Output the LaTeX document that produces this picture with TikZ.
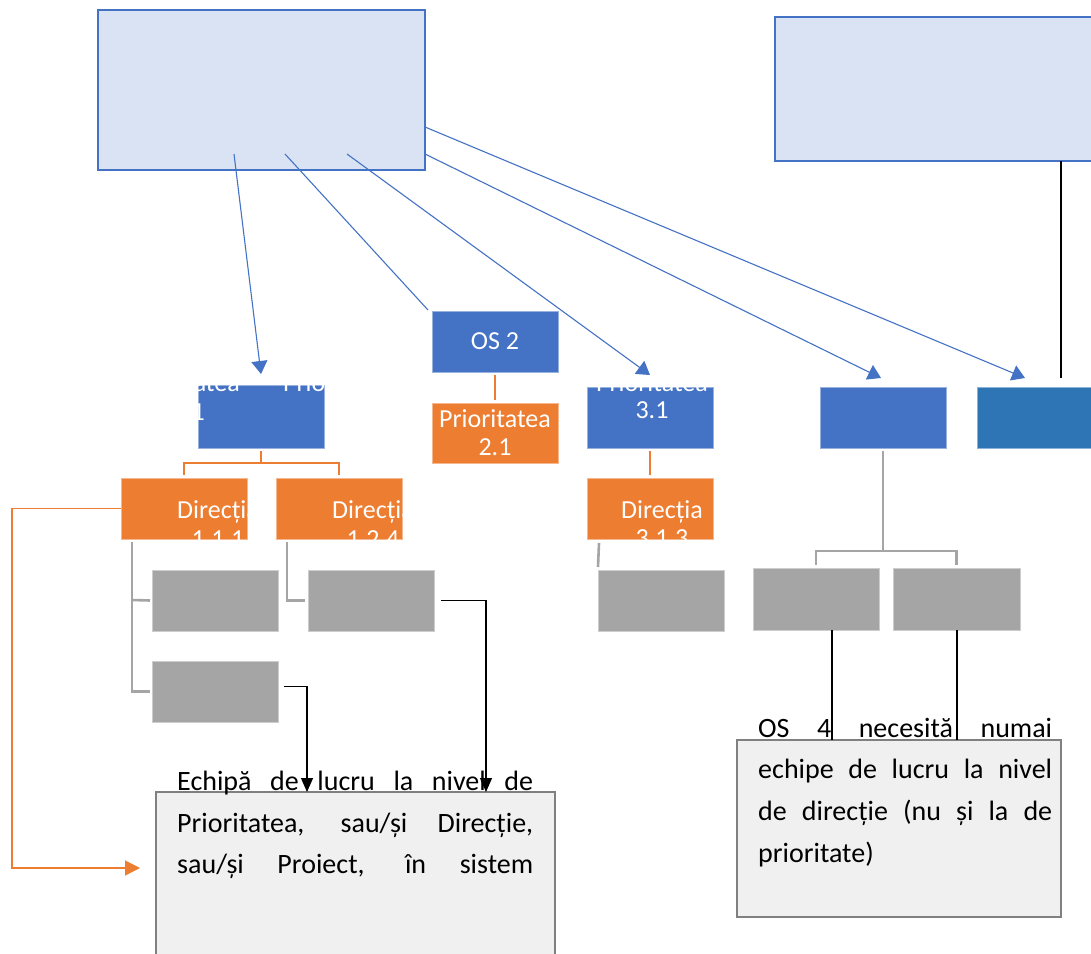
\documentclass[tikz,border=0pt]{standalone}
\usepackage{fontspec}
\setmainfont{Carlito}
\usetikzlibrary{arrows.meta,calc}
\definecolor{cblue}{HTML}{4472C4}
\definecolor{corange}{HTML}{ED7D31}
\definecolor{cgray}{HTML}{A5A5A5}
\definecolor{cbluetwo}{HTML}{2E75B6}
\definecolor{clight}{HTML}{DAE3F3}
\definecolor{cnote}{HTML}{F0F0F0}
\definecolor{cnoteborder}{HTML}{808080}
\begin{document}
\begin{tikzpicture}[x=1pt,y=-1pt,
  basebox/.style={rectangle, inner sep=0pt, outer sep=0pt, anchor=north west, minimum width=126pt, minimum height=61pt},
  bluebox/.style={basebox, fill=cblue, draw=cblue!55!white, line width=0.6pt},
  bluetwobox/.style={basebox, fill=cbluetwo, draw=cbluetwo!55!white, line width=0.6pt},
  orangebox/.style={basebox, fill=corange, draw=corange!55!white, line width=0.6pt},
  graybox/.style={basebox, fill=cgray, draw=cgray!55!white, line width=0.6pt},
  topbox/.style={basebox, fill=clight, draw=cblue, line width=1.8pt},
  notebox/.style={basebox, fill=cnote, draw=cnoteborder, line width=1.4pt},
  wtext/.style={text=white, font=\fontsize{26pt}{28pt}\selectfont, inner sep=0pt, anchor=base},
  btext/.style={text=black, font=\fontsize{28pt}{34pt}\selectfont, inner sep=0pt, anchor=base west},
  bluearrow/.style={draw=cblue, line width=1.1pt, -{Triangle[width=16pt,length=13pt]}},
  blueline/.style={draw=cblue, line width=1.1pt},
  oline/.style={draw=corange, line width=2.6pt},
  othin/.style={draw=corange, line width=1.2pt, -{Triangle[width=15pt,length=15pt]}},
  gline/.style={draw=cgray, line width=2.6pt},
  bline/.style={draw=black, line width=1.2pt},
  barrow/.style={draw=black, line width=1.2pt, -{Triangle[width=12pt,length=14pt]}}
]
\fill[white] (0,0) rectangle (1091,953);
\useasboundingbox (0,0) rectangle (1091,953);

% top boxes
\node[topbox, minimum width=327pt, minimum height=160pt] (os1) at (98,10) {};
\node[topbox, minimum width=330pt, minimum height=144pt] (os5) at (775,17) {};

% level 2
\node[bluebox, minimum height=63pt] (p11) at (198,385) {};
\node[bluebox] (os2) at (432,311) {};
\node[orangebox, minimum height=60pt] (p21) at (432,403) {};
\node[bluebox] (p31) at (587,387) {};
\node[bluebox] (os3) at (820,387) {};
\node[bluetwobox, minimum width=127pt] (os4) at (977,387) {};

% level 3
\node[orangebox] (d111) at (121,478) {};
\node[orangebox] (d124) at (276,478) {};
\node[orangebox] (d313) at (587,478) {};

% gray boxes
\node[graybox] (g1) at (152,570) {};
\node[graybox] (g2) at (152,661) {};
\node[graybox] (g3) at (308,570) {};
\node[graybox] (g4) at (598,570) {};
\node[graybox, minimum height=62pt] (g5) at (753,568) {};
\node[graybox, minimum width=127pt, minimum height=62pt] (g6) at (893,568) {};

% note boxes
\node[notebox, minimum width=399pt, minimum height=175pt] (tb1) at (156,792) {};
\node[notebox, minimum width=324pt, minimum height=177pt] (tb2) at (737,740) {};

% white texts
\node[wtext, anchor=base east] (t11a) at (240,391) {Prioritatea};
\node[wtext, anchor=base west] (t11b) at (283,391) {Prioritatea};
\node[wtext, anchor=base east] (t11c) at (205,420) {1.1};
\node[wtext] (tos2) at (495,349) {OS 2};
\node[wtext] (t21a) at (495,427) {Prioritatea};
\node[wtext] (t21b) at (495,455) {2.1};
\node[wtext] (t31a) at (652,391) {Prioritatea};
\node[wtext] (t31b) at (652,418) {3.1};
\node[wtext] (td111a) at (218,518) {Direcția};
\node[wtext] (td111b) at (218,547) {1.1.1};
\node[wtext] (td124a) at (373,518) {Direcția};
\node[wtext] (td124b) at (373,547) {1.2.4};
\node[wtext] (td313a) at (662,518) {Direcția};
\node[wtext] (td313b) at (662,546) {3.1.3};

% black note texts
\node[btext] (n1a) at (177,790) {\makebox[356pt][s]{Echipă de lucru la nivel de}};
\node[btext] (n1b) at (177,832) {\makebox[356pt][s]{Prioritatea, sau/și Direcție,}};
\node[btext] (n1c) at (177,873) {\makebox[356pt][s]{sau/și Proiect, în sistem}};
\node[btext] (n2a) at (758,737) {\makebox[294pt][s]{OS 4 necesită numai}};
\node[btext] (n2b) at (758,778) {\makebox[294pt][s]{echipe de lucru la nivel}};
\node[btext] (n2c) at (758,820) {\makebox[294pt][s]{de direcție (nu și la de}};
\node[btext] (n2d) at (758,862) {prioritate)};

% orange tree connectors
\draw[oline] ($(p11.south)+(0,3)$) -- ++(0,12) -| ($(d111.north)+(0,-3)$);
\draw[oline] ($(p11.south)+(0,15)$) -| ($(d124.north)+(0,-3)$);
\draw[oline] ($(os2.south)+(0,3)$) -- ($(p21.north)+(0,-3)$);
\draw[oline] ($(p31.south)+(0,3)$) -- ($(d313.north)+(0,-3)$);

% gray connectors
\draw[gline] ($(d111.south west)+(11,3)$) |- ($(g2.west)+(-2,0)$);
\draw[gline] ($(d111.south west)+(11,61)$) -- ($(g1.west)+(-2,0)$);
\draw[gline] ($(d124.south west)+(11,3)$) |- ($(g3.west)+(-3,0)$);
\draw[gline] ($(d313.south west)+(12,4)$) -- ($(g4.north west)+(0,-3)$);
\draw[gline] ($(os3.south)+(0,3)$) -- ++(0,100) -| ($(g5.north)+(0,-3)$);
\draw[gline] ($(os3.south)+(0,103)$) -| ($(g6.north)+(0,-3)$);

% blue connectors from OS box
\draw[bluearrow] ($(os1.north west)+(136,144)$) -- ($(p11.north)+(0,-11)$);
\draw[blueline] ($(os1.north west)+(187,144)$) -- ($(os2.north west)+(-4,-1)$);
\draw[bluearrow] ($(os1.north west)+(249,144)$) -- ($(p31.north)+(0,-12)$);
\draw[bluearrow] ($(os1.south east)+(0,-16)$) -- ($(os3.north)+(-2,-9)$);
\draw[bluearrow] ($(os1.south east)+(0,-43)$) -- ($(os4.north west)+(48,-9)$);

% black connectors
\draw[bline] ($(os5.south west)+(286,0)$) -- ($(os4.north west)+(84,-9)$);
\draw[barrow] ($(g2.east)+(6,-5)$) -| ($(tb1.north west)+(151,0)$);
\draw[barrow] ($(g3.east)+(7,0)$) -| ($(tb1.north west)+(330,0)$);
\draw[bline] ($(g5.south west)+(79,0)$) -- ($(tb2.north west)+(95,0)$);
\draw[bline] ($(g6.south west)+(64,0)$) -- ($(tb2.north west)+(220,0)$);

% orange side connector
\draw[othin] (d111.west) -- ++(-109,0) |- ($(tb1.north west)+(-16,76)$);
\end{tikzpicture}
\end{document}
